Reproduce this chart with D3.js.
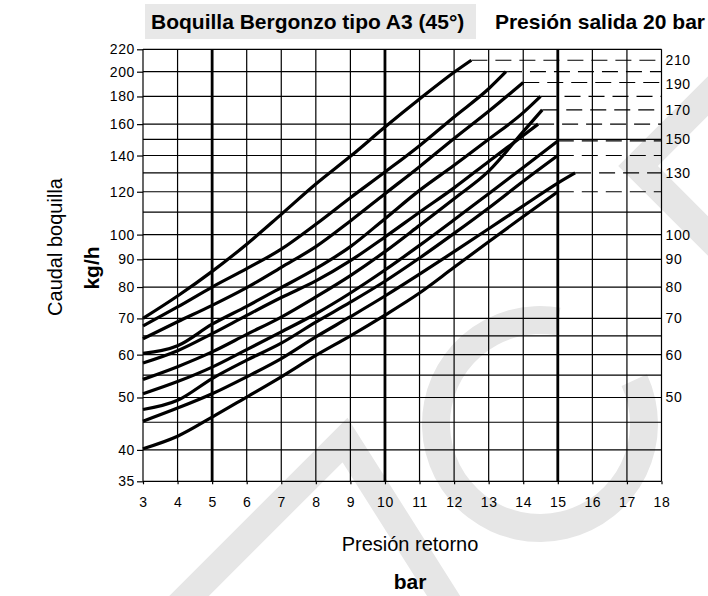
<!DOCTYPE html>
<html>
<head>
<meta charset="utf-8">
<script src="https://cdn.jsdelivr.net/npm/d3@7"></script>
<style>
body { margin: 0; background: #fff; }
svg { font-family: "Liberation Sans", Arial, sans-serif; }
</style>
</head>
<body>
<div id="chart"></div>
<script>
// Chart data
var title = "Boquilla Bergonzo tipo A3 (45°)";
var subtitle = "Presión salida 20 bar";
var xTicks = d3.range(3, 19);
var xThick = [5, 10, 15];
var yGrid = [35, 40, 45, 50, 55, 60, 65, 70, 80, 90, 100, 110, 120, 130, 140, 150, 160, 180, 200, 220];
var yTicksLeft = [35, 40, 50, 60, 70, 80, 90, 100, 120, 140, 160, 180, 200, 220];
var yTicksRight = [50, 60, 70, 80, 90, 100, 130, 150, 170, 190, 210];

// curves [presion retorno, caudal]
var curve1 = [[3,70],[4,77],[5,85.5],[6,96],[7,109],[8,124],[9,139.5],[10,158],[11,178],[12,199.5],[12.5,210]];
var curve2 = [[3,67.8],[4,73.5],[5,80],[6,86.5],[7,94],[8,104.5],[9,117],[10,130.5],[11,146],[12,165],[13,186],[13.5,200]];
var curve3 = [[3,64.2],[4,69],[5,74],[6,79.8],[7,87],[8,95],[9,106],[10,119],[11,133.5],[12,150.5],[13,169],[14,191]];
var curve4 = [[3,60.3],[4,62.3],[5,68.3],[6,73.7],[7,79.8],[8,86.5],[9,95],[10,107],[11,120.7],[12,134.3],[13,150],[14,168],[14.5,180]];
var curve5 = [[3,57.9],[4,61],[5,65.6],[6,70.9],[7,76.5],[8,82.1],[9,89.5],[10,99],[11,110],[12,122],[13,136.5],[14,152.5],[14.43,160]];
var curve6 = [[3,54],[4,57],[5,60.7],[6,65.4],[7,70.4],[8,76.7],[9,84],[10,93],[11,104],[12,116.5],[13,131],[14,155],[14.55,170]];
var curve7 = [[3,50.8],[4,53.5],[5,56.9],[6,61.3],[7,66.1],[8,71.4],[9,78],[10,86],[11,95.5],[12,106.5],[13,119],[14,133],[15,149]];
var curve8 = [[3,47.5],[4,49.4],[5,54.2],[6,58.6],[7,63],[8,68.9],[9,75],[10,82],[11,90.5],[12,100.5],[13,112],[14,125.5],[15,140]];
var curve9 = [[3,45.2],[4,47.8],[5,50.8],[6,54.6],[7,59],[8,64.7],[9,70.5],[10,77],[11,84.5],[12,93],[13,102.5],[14,113],[15,124.5],[15.5,130]];
var curve10 = [[3,40.2],[4,42.4],[5,46],[6,50.1],[7,54.6],[8,59.8],[9,65],[10,71],[11,78],[12,87],[13,97],[14,108],[15,120]];
var curves = [curve1, curve2, curve3, curve4, curve5, curve6, curve7, curve8, curve9, curve10];

var width = 708, height = 596;
var plotLeft = 143, plotRight = 661.5, plotTop = 49.3, plotBottom = 481.3;

var svg = d3.select("#chart").append("svg")
    .attr("width", width)
    .attr("height", height);

var x = d3.scaleLinear().domain([3, 18]).range([plotLeft, plotRight]);
var y = d3.scaleLog().domain([35, 220]).range([plotBottom, plotTop]);

// watermark (light grey logo behind the grid)
var wm = svg.append("g")
    .attr("fill", "none")
    .attr("stroke", "#e6e6e6")
    .attr("stroke-width", 28)
    .attr("stroke-linejoin", "miter");
wm.append("path").attr("d", "M176,609 L345,440 L455,614");
wm.append("path").attr("d", "M742,62 L638,166 L742,270");
wm.append("path")
    .attr("transform", "translate(540,424)")
    .attr("stroke", "none")
    .attr("fill", "#e6e6e6")
    .attr("d", d3.arc()({innerRadius: 90, outerRadius: 118, startAngle: 65 * Math.PI / 180, endAngle: 370 * Math.PI / 180}));

// title
svg.append("rect")
    .attr("x", 145).attr("y", 4)
    .attr("width", 331).attr("height", 35)
    .attr("fill", "#e8e8e8");
svg.append("text")
    .attr("x", 151).attr("y", 29)
    .style("font-size", "21px").style("font-weight", "bold")
    .text(title);
svg.append("text")
    .attr("x", 705).attr("y", 29)
    .attr("text-anchor", "end")
    .style("font-size", "21px").style("font-weight", "bold")
    .text(subtitle);

// end point of each curve -> dashed line to the right
var ends = curves.map(function(c){ return c[c.length - 1]; });
function endFor(v){
    var e = ends.find(function(d){ return Math.abs(d[1] - v) < 0.5; });
    return e ? e[0] : 18;
}

var grid = svg.append("g").attr("stroke", "#000");
grid.selectAll("line.h").data(yGrid).enter().append("line")
    .attr("class", "h")
    .attr("x1", x(3))
    .attr("x2", function(d){ return x(endFor(d)); })
    .attr("y1", function(d){ return y(d); })
    .attr("y2", function(d){ return y(d); })
    .attr("stroke-width", 1.2);
grid.selectAll("line.v").data(xTicks).enter().append("line")
    .attr("class", "v")
    .attr("x1", function(d){ return x(d); })
    .attr("x2", function(d){ return x(d); })
    .attr("y1", y(220))
    .attr("y2", y(35))
    .attr("stroke-width", function(d){ return xThick.indexOf(d) >= 0 ? 2.8 : 1.2; });
grid.selectAll("line.dash").data(ends).enter().append("line")
    .attr("class", "dash")
    .attr("x1", function(d){ return x(d[0]); })
    .attr("x2", x(18))
    .attr("y1", function(d){ return y(d[1]); })
    .attr("y2", function(d){ return y(d[1]); })
    .attr("stroke-width", 1.2)
    .attr("stroke-dasharray", "16,8");

// axes
var tickFont = "'Liberation Sans', Arial, sans-serif";
var yAxisL = d3.axisLeft(y).tickValues(yTicksLeft).tickFormat(d3.format("d")).tickSize(6).tickPadding(2);
var gl = svg.append("g").attr("transform", "translate(" + plotLeft + ",0)").call(yAxisL);
gl.select(".domain").remove();
gl.selectAll("text").style("font-size", "14px").style("font-family", tickFont).style("letter-spacing", "0.6px");
gl.selectAll("line").attr("stroke-width", 1.2);

var yAxisR = d3.axisRight(y).tickValues(yTicksRight).tickFormat(d3.format("d")).tickSize(0).tickPadding(4);
var gr = svg.append("g").attr("transform", "translate(" + plotRight + ",0)").call(yAxisR);
gr.select(".domain").remove();
gr.selectAll("text").style("font-size", "14px").style("font-family", tickFont).style("letter-spacing", "0.6px");

var xAxis = d3.axisBottom(x).tickValues(xTicks).tickSize(3).tickPadding(13);
var gx = svg.append("g").attr("transform", "translate(0," + plotBottom + ")").call(xAxis);
gx.select(".domain").remove();
gx.selectAll("text").style("font-size", "14px").style("font-family", tickFont).style("letter-spacing", "0.6px");
gx.selectAll("line").attr("stroke-width", 1.2);

// curves
var line = d3.line()
    .x(function(d){ return x(d[0]); })
    .y(function(d){ return y(d[1]); })
    .curve(d3.curveMonotoneX);
svg.append("g").selectAll("path").data(curves).enter().append("path")
    .attr("d", line)
    .attr("fill", "none")
    .attr("stroke", "#000")
    .attr("stroke-width", 3.2);

// axis titles
svg.append("text")
    .attr("x", 410).attr("y", 551)
    .attr("text-anchor", "middle")
    .style("font-size", "20px")
    .text("Presión retorno");
svg.append("text")
    .attr("x", 410).attr("y", 589)
    .attr("text-anchor", "middle")
    .style("font-size", "21px").style("font-weight", "bold")
    .text("bar");
svg.append("text")
    .attr("transform", "translate(62,247) rotate(-90)")
    .attr("text-anchor", "middle")
    .style("font-size", "20px")
    .text("Caudal boquilla");
svg.append("text")
    .attr("transform", "translate(99,268) rotate(-90)")
    .attr("text-anchor", "middle")
    .style("font-size", "21px").style("font-weight", "bold")
    .text("kg/h");
</script>
</body>
</html>
